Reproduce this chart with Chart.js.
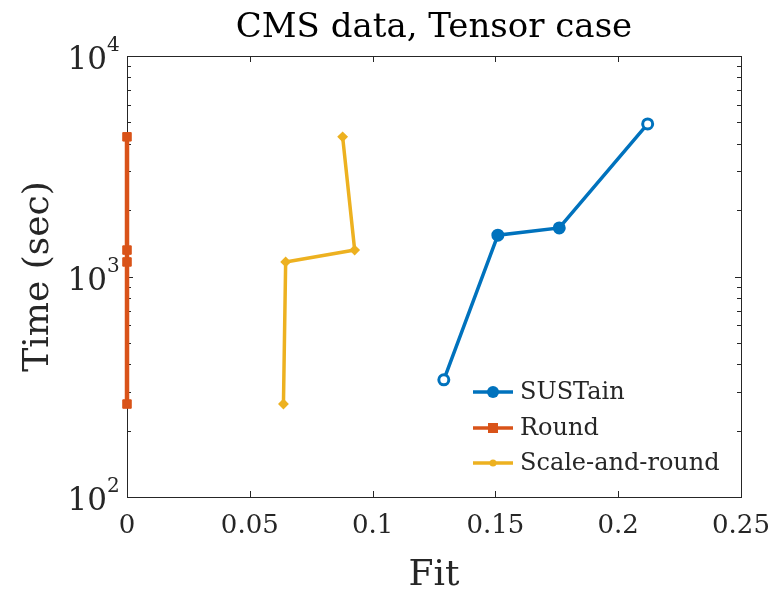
<!DOCTYPE html>
<html lang="en">
<head>
    <meta charset="UTF-8">
    <title>CMS data, Tensor case</title>
    <script src="https://cdn.jsdelivr.net/npm/chart.js"></script>
    <style>
        html, body { margin: 0; padding: 0; background: #fff; }
        #wrap { width: 777px; height: 590px; }
    </style>
</head>
<body>
    <div id="wrap"><canvas id="fitChart"></canvas></div>

    <script>
        // Data
        const sustainFit  = [0.129, 0.151, 0.176, 0.212];
        const sustainTime = [340, 1540, 1660, 4920];
        const roundFit    = [0, 0, 0, 0];
        const roundTime   = [264, 1164, 1318, 4300];
        const sarFit      = [0.0637, 0.0646, 0.0927, 0.0878];
        const sarTime     = [264, 1164, 1318, 4300];

        const xTicks = [0, 0.05, 0.1, 0.15, 0.2, 0.25];
        const yDecades = [2, 3, 4];
        const chartTitle = 'CMS data, Tensor case';

        const serif = "'DejaVu Serif', 'Liberation Serif', serif";
        const ink = '#262626';

        const toPoints = (xs, ys) => xs.map((v, i) => ({ x: v, y: ys[i] }));

        // Box, inward ticks, power-of-ten labels, title over the axes and the legend
        const axisDecor = {
            id: 'axisDecor',
            beforeDatasetsDraw(chart) {
                const { ctx, chartArea: a, scales: { x, y } } = chart;
                ctx.save();
                ctx.strokeStyle = ink;
                ctx.lineWidth = 1;
                ctx.strokeRect(a.left + 0.5, a.top + 0.5, a.right - a.left, a.bottom - a.top);
                const seg = (x1, y1, x2, y2) => {
                    ctx.beginPath(); ctx.moveTo(x1, y1); ctx.lineTo(x2, y2); ctx.stroke();
                };
                xTicks.forEach(v => {
                    const px = Math.round(x.getPixelForValue(v)) + 0.5;
                    seg(px, a.bottom, px, a.bottom - 6);
                    seg(px, a.top, px, a.top + 6);
                });
                for (let e = yDecades[0]; e < yDecades[yDecades.length - 1]; e++) {
                    for (let m = 1; m < 10; m++) {
                        const py = Math.round(y.getPixelForValue(m * Math.pow(10, e))) + 0.5;
                        const len = m === 1 ? 6 : 4;
                        seg(a.left, py, a.left + len, py);
                        seg(a.right, py, a.right - len, py);
                    }
                }
                ctx.restore();
            },
            afterDraw(chart) {
                const { ctx, chartArea: a, scales: { y } } = chart;
                ctx.save();
                // title centred over the axes
                ctx.fillStyle = '#000';
                ctx.font = '34px ' + serif;
                ctx.textAlign = 'center';
                ctx.textBaseline = 'alphabetic';
                ctx.fillText(chartTitle, (a.left + a.right) / 2, 37);

                ctx.fillStyle = ink;
                // y tick labels as 10^n
                yDecades.forEach(e => {
                    const py = y.getPixelForValue(Math.pow(10, e));
                    ctx.textAlign = 'right';
                    ctx.textBaseline = 'middle';
                    ctx.font = '31px ' + serif;
                    ctx.fillText('10', 107, py + 5);
                    ctx.textAlign = 'left';
                    ctx.font = '20px ' + serif;
                    ctx.fillText(String(e), 107, py - 10);
                });
                // legend in the lower right of the axes
                const rows = [392, 428, 463];
                chart.data.datasets.forEach((ds, i) => {
                    const ly = rows[i];
                    ctx.strokeStyle = ds.borderColor;
                    ctx.lineWidth = 3.5;
                    ctx.beginPath(); ctx.moveTo(473, ly); ctx.lineTo(513, ly); ctx.stroke();
                    ctx.fillStyle = ds.borderColor;
                    ctx.beginPath();
                    if (ds.pointStyle === 'rect') ctx.rect(488, ly - 5, 10, 10);
                    else if (ds.pointStyle === 'circle') ctx.arc(493, ly, 6, 0, Math.PI * 2);
                    else ctx.arc(493, ly, 3.5, 0, Math.PI * 2);
                    ctx.fill();
                    ctx.fillStyle = ink;
                    ctx.font = '24px ' + serif;
                    ctx.textAlign = 'left';
                    ctx.textBaseline = 'middle';
                    ctx.fillText(ds.label, 520, ly + 1);
                });
                ctx.restore();
            }
        };

        const blue = '#0072BD', orange = '#D95319', yellow = '#EDB120';

        new Chart(document.getElementById('fitChart'), {
            type: 'line',
            data: {
                datasets: [{
                    label: 'SUSTain',
                    data: toPoints(sustainFit, sustainTime),
                    borderColor: blue,
                    borderWidth: 3.5,
                    pointStyle: 'circle',
                    pointRadius: 5,
                    pointBorderWidth: 3,
                    pointBackgroundColor: ['#fff', blue, blue, '#fff'],
                    pointBorderColor: blue,
                    clip: false
                }, {
                    label: 'Round',
                    data: toPoints(roundFit, roundTime),
                    borderColor: orange,
                    borderWidth: 4.5,
                    pointStyle: 'rect',
                    pointRadius: 6,
                    pointBorderWidth: 1,
                    pointBackgroundColor: orange,
                    pointBorderColor: orange,
                    clip: false
                }, {
                    label: 'Scale-and-round',
                    data: toPoints(sarFit, sarTime),
                    borderColor: yellow,
                    borderWidth: 3.5,
                    pointStyle: 'rectRot',
                    pointRadius: 4,
                    pointBorderWidth: 2,
                    pointBackgroundColor: yellow,
                    pointBorderColor: yellow,
                    clip: false
                }]
            },
            options: {
                responsive: true,
                maintainAspectRatio: false,
                animation: false,
                layout: { padding: { left: 0, right: 36, top: 56, bottom: 0 } },
                elements: { line: { tension: 0 } },
                scales: {
                    x: {
                        type: 'linear',
                        min: 0,
                        max: 0.25,
                        afterBuildTicks: s => { s.ticks = xTicks.map(v => ({ value: v })); },
                        afterFit: s => { s.height = 93; s.paddingLeft = 0; s.paddingRight = 0; },
                        grid: { display: false, drawTicks: false },
                        border: { display: false },
                        ticks: {
                            color: ink,
                            padding: 14,
                            font: { family: serif, size: 26 },
                            callback: v => String(v)
                        },
                        title: {
                            display: true,
                            text: 'Fit',
                            color: ink,
                            font: { family: serif, size: 36, lineHeight: 0.8 },
                            padding: { top: 0, bottom: 0 }
                        }
                    },
                    y: {
                        type: 'logarithmic',
                        min: 100,
                        max: 10000,
                        afterFit: s => { s.width = 127; },
                        grid: { display: false, drawTicks: false },
                        border: { display: false },
                        ticks: { display: false },
                        title: {
                            display: true,
                            text: 'Time (sec)',
                            color: ink,
                            font: { family: serif, size: 36 },
                            padding: { top: 17, bottom: 0 }
                        }
                    }
                },
                plugins: {
                    legend: { display: false },
                    tooltip: { enabled: false },
                    title: { display: false }
                }
            },
            plugins: [axisDecor]
        });
    </script>
</body>
</html>
